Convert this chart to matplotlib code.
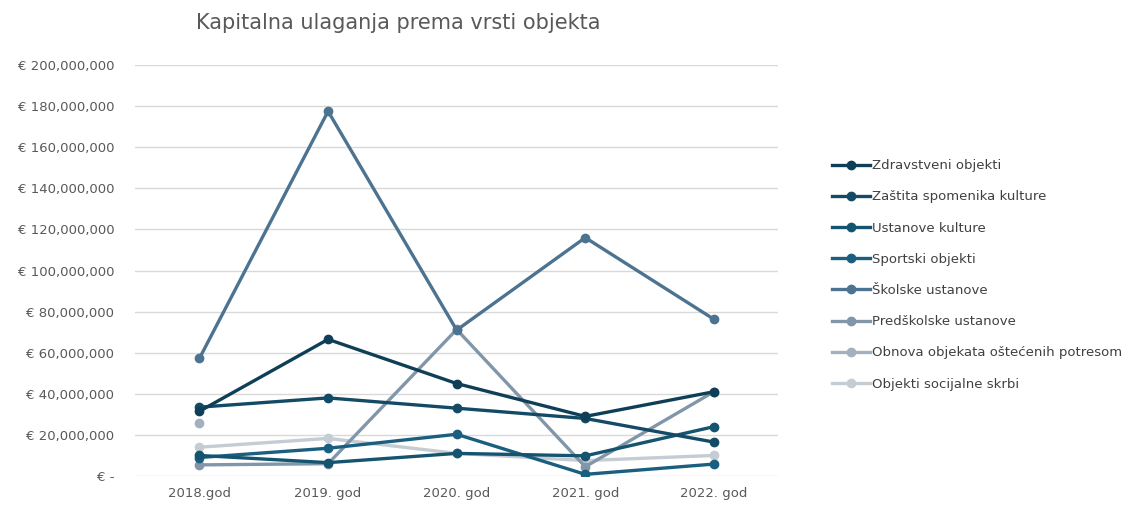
import numpy as np
import matplotlib.pyplot as plt
from matplotlib.ticker import FuncFormatter

# ------------------------------------------------------------
#  Podaci (procjena s grafa, EUR)
# ------------------------------------------------------------
godine = ["2018.god", "2019. god", "2020. god", "2021. god", "2022. god"]

zdravstveni = [31.5e6, 66.5e6, 45.0e6, 29.0e6, 41.0e6]
zastita     = [33.5e6, 38.0e6, 33.0e6, 28.0e6, 16.5e6]
kultura     = [10.0e6, 6.5e6, 11.0e6, 9.8e6, 24.0e6]
sportski    = [9.0e6, 13.5e6, 20.3e6, 0.8e6, 5.8e6]
skolske     = [57.3e6, 177.5e6, 71.0e6, 116.0e6, 76.3e6]
predskolske = [5.4e6, 6.0e6, 71.3e6, 4.5e6, 41.0e6]
obnova      = [26.0e6, np.nan, np.nan, np.nan, np.nan]
socijalne   = [14.0e6, 18.3e6, 11.0e6, 7.5e6, 10.0e6]

nazivi = ["Zdravstveni objekti", "Zaštita spomenika kulture", "Ustanove kulture",
          "Sportski objekti", "Školske ustanove", "Predškolske ustanove",
          "Obnova objekata oštećenih potresom", "Objekti socijalne skrbi"]
serije = [zdravstveni, zastita, kultura, sportski, skolske, predskolske, obnova, socijalne]
boje = ["#0e3f57", "#134a66", "#15546f", "#1b5f80", "#4c7390",
        "#8196a9", "#a3b0bd", "#c5ccd4"]

# ------------------------------------------------------------
#  Crtanje
# ------------------------------------------------------------
fig = plt.figure(figsize=(11.36, 5.08), dpi=100)
ax = fig.add_axes([0.119, 0.063, 0.566, 0.809])

x = np.arange(len(godine))
# svjetlije serije ispod, tamnije iznad
for i in reversed(range(len(serije))):
    ax.plot(x, serije[i], color=boje[i], lw=2.4, marker="o", ms=6,
            label=nazivi[i], zorder=3 + (len(serije) - i) * 0.1)

ax.set_xlim(-0.5, len(godine) - 0.5)
ax.set_ylim(0, 200e6)
ax.set_yticks(np.arange(0, 200e6 + 1, 20e6))
ax.yaxis.set_major_formatter(FuncFormatter(
    lambda v, p: "€ -" if v == 0 else f"€ {v:,.0f}"))
ax.set_xticks(x)
ax.set_xticklabels(godine)

ax.grid(axis="y", color="#d9d9d9", lw=1.0, zorder=0)
for s in ax.spines.values():
    s.set_visible(False)
ax.tick_params(axis="both", length=0, labelsize=9.5, colors="#595959", pad=8)
ax.tick_params(axis="y", pad=15)

fig.text(0.351, 0.955, "Kapitalna ulaganja prema vrsti objekta",
         ha="center", va="center", fontsize=15, color="#595959")

h, l = ax.get_legend_handles_labels()
order = [l.index(n) for n in nazivi]
fig.legend([h[k] for k in order], [l[k] for k in order],
           loc="upper left", bbox_to_anchor=(0.722, 0.71), frameon=False,
           fontsize=9.5, handlelength=2.9, labelspacing=1.38,
           handletextpad=0.1, labelcolor="#404040")

fig.savefig("out.png", dpi=100)
